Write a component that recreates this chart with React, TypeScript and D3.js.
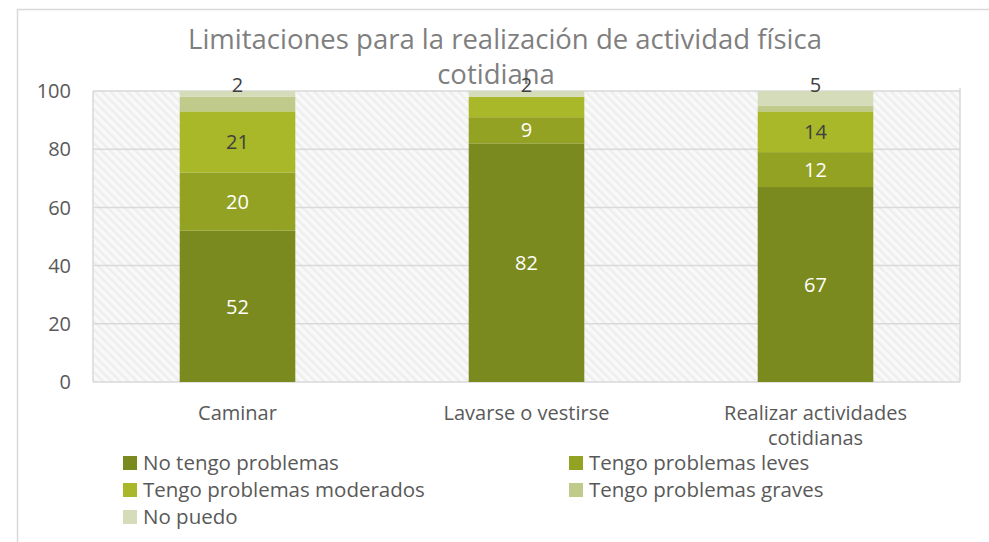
import React from "react";
import * as d3 from "d3";

const categories = ["Caminar", "Lavarse o vestirse", "Realizar actividades cotidianas"];
const categoryLines = [["Caminar"], ["Lavarse o vestirse"], ["Realizar actividades", "cotidianas"]];
const seriesNames = [
  "No tengo problemas",
  "Tengo problemas leves",
  "Tengo problemas moderados",
  "Tengo problemas graves",
  "No puedo",
];
const noTengo = [52, 82, 67];
const leves = [20, 9, 12];
const moderados = [21, 7, 14];
const graves = [5, 0, 2];
const noPuedo = [2, 2, 5];
const yTicks = [0, 20, 40, 60, 80, 100];

const seriesValues = [noTengo, leves, moderados, graves, noPuedo];
const colors = ["#7b8a1e", "#93a222", "#a8b828", "#bfca8b", "#d5dcb9"];
const labelColors = ["#ffffff", "#ffffff", "#404040", "#404040", "#404040"];

const FONT = "'Open Sans', sans-serif";

export default function App() {
  const W = 989;
  const H = 542;
  const plotL = 93;
  const plotR = 960;
  const plotT = 91;
  const plotB = 382;

  const x = d3.scaleBand<string>().domain(categories).range([plotL, plotR]).padding(0);
  const y = d3.scaleLinear().domain([0, 100]).range([plotB, plotT]);
  const barW = x.bandwidth() * 0.4;

  const rows = categories.map((c, i) => {
    const obj: any = { cat: c };
    seriesNames.forEach((s, k) => (obj[s] = seriesValues[k][i]));
    return obj;
  });
  const stacked = d3.stack<any>().keys(seriesNames)(rows);

  const legendItems = [
    { name: seriesNames[0], col: 0, row: 0, k: 0 },
    { name: seriesNames[1], col: 1, row: 0, k: 1 },
    { name: seriesNames[2], col: 0, row: 1, k: 2 },
    { name: seriesNames[3], col: 1, row: 1, k: 3 },
    { name: seriesNames[4], col: 0, row: 2, k: 4 },
  ];
  const legendX = [123, 569];
  const legendY = [463, 490, 517];

  return (
    <svg
      width={W}
      height={H}
      style={{ position: "absolute", left: 0, top: 0, background: "#fff" }}
      fontFamily={FONT}
    >
      <defs>
        <pattern id="hatch" width="6" height="6" patternUnits="userSpaceOnUse" patternTransform="rotate(-45)">
          <rect width="6" height="6" fill="#f9f9f9" />
          <rect width="2.5" height="6" fill="#eeeeee" />
        </pattern>
      </defs>
      <rect x={17.5} y={9.5} width={1000} height={600} fill="#fff" stroke="#d9d9d9" strokeWidth={1.5} />

      {/* title */}
      <text x={505} y={49} textAnchor="middle" fontSize={27.5} fill="#7f7f7f">
        Limitaciones para la realización de actividad física
      </text>
      <text x={496} y={84} textAnchor="middle" fontSize={27.5} fill="#7f7f7f">
        cotidiana
      </text>

      {/* plot background */}
      <rect x={plotL} y={plotT} width={plotR - plotL} height={plotB - plotT} fill="url(#hatch)" />
      {yTicks.map((t) => (
        <line key={t} x1={plotL} x2={plotR} y1={y(t)} y2={y(t)} stroke="#d9d9d9" strokeWidth={1.5} />
      ))}
      <line x1={plotL} x2={plotL} y1={plotT} y2={plotB} stroke="#d9d9d9" strokeWidth={1.5} />
      <line x1={plotR} x2={plotR} y1={plotT - 3} y2={plotB} stroke="#d9d9d9" strokeWidth={1.5} />
      {yTicks.map((t) => (
        <text key={t} x={71} y={y(t)} dy="0.36em" textAnchor="end" fontSize={20} fill="#595959">
          {t}
        </text>
      ))}

      {/* bars */}
      {stacked.map((s, k) =>
        s.map((d, i) => {
          const cx = (x(categories[i]) as number) + x.bandwidth() / 2;
          return (
            <rect
              key={k + "-" + i}
              x={cx - barW / 2}
              y={y(d[1])}
              width={barW}
              height={Math.max(0, y(d[0]) - y(d[1]))}
              fill={colors[k]}
            />
          );
        })
      )}

      {/* data labels */}
      {stacked.map((s, k) =>
        s.map((d, i) => {
          const v = seriesValues[k][i];
          const cx = (x(categories[i]) as number) + x.bandwidth() / 2;
          if (k === 4) {
            return (
              <text key={"l" + k + i} x={cx} y={y(d[1]) + 1} textAnchor="middle" fontSize={20} fill="#404040">
                {v}
              </text>
            );
          }
          if (v < 9) return null;
          return (
            <text
              key={"l" + k + i}
              x={cx}
              y={(y(d[0]) + y(d[1])) / 2}
              dy="0.36em"
              textAnchor="middle"
              fontSize={20}
              fill={labelColors[k]}
            >
              {v}
            </text>
          );
        })
      )}

      {/* x labels */}
      {categories.map((c, i) => {
        const cx = (x(c) as number) + x.bandwidth() / 2;
        return categoryLines[i].map((ln, j) => (
          <text key={c + j} x={cx} y={413 + j * 25} dy="0.36em" textAnchor="middle" fontSize={20} fill="#595959">
            {ln}
          </text>
        ));
      })}

      {/* legend */}
      {legendItems.map((it) => (
        <g key={it.name}>
          <rect x={legendX[it.col]} y={legendY[it.row] - 7} width={14} height={14} fill={colors[it.k]} />
          <text x={legendX[it.col] + 20} y={legendY[it.row]} dy="0.36em" fontSize={20.5} fill="#595959">
            {it.name}
          </text>
        </g>
      ))}
    </svg>
  );
}
